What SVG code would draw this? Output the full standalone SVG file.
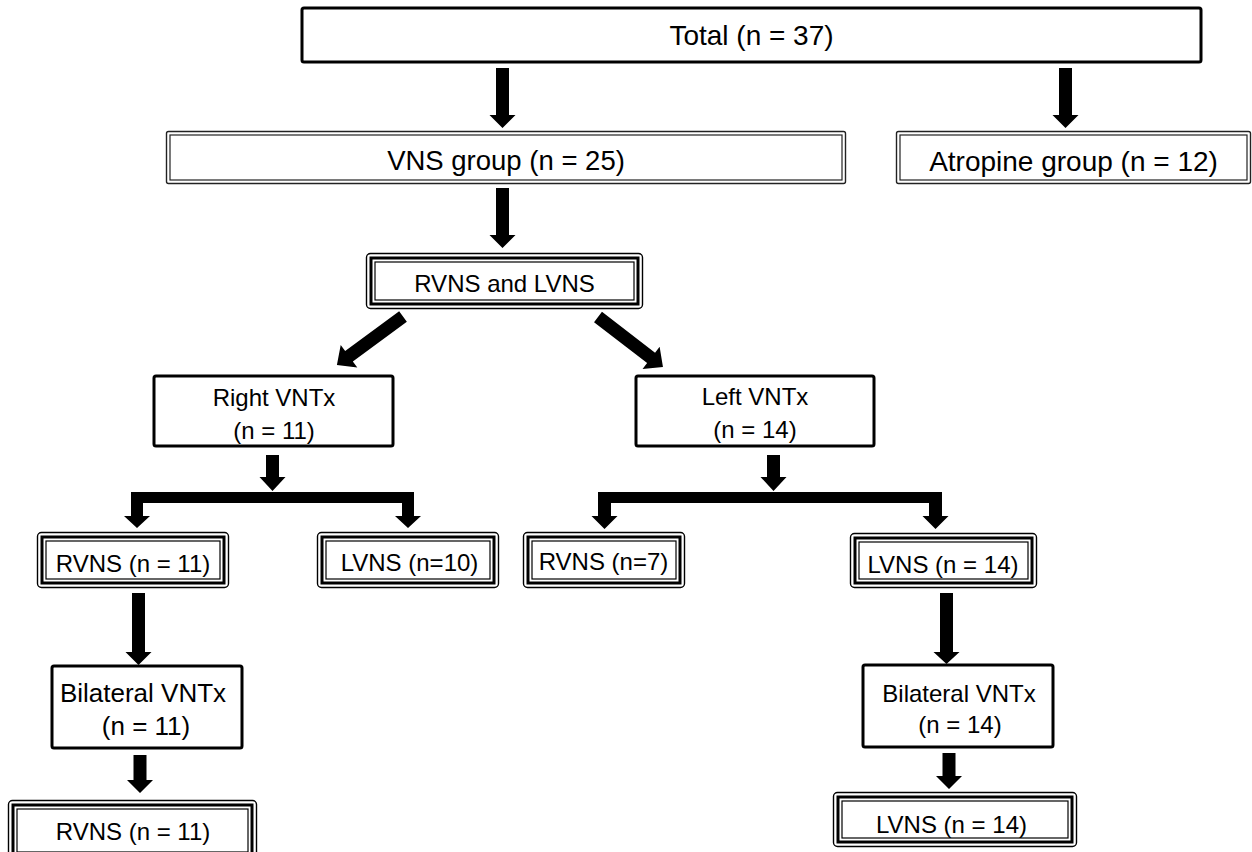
<svg xmlns="http://www.w3.org/2000/svg" width="1252" height="852" viewBox="0 0 1252 852">
<style>
.t{font-family:"Liberation Sans",Arial,sans-serif;font-size:24px;fill:#000;text-anchor:middle}
.big{font-size:28px}
.single{fill:#fff;stroke:#000;stroke-width:3}
.dblo{fill:#fff;stroke:#222;stroke-width:1.4}
.dbli{fill:none;stroke:#222;stroke-width:1.2}
.trio{fill:#fff;stroke:#000;stroke-width:1.4}
.trim{fill:none;stroke:#000;stroke-width:3}
.trii{fill:none;stroke:#000;stroke-width:1.2}
.arr{fill:#000}
</style>
<rect width="1252" height="852" fill="#fff"/>
<g id="connectors" class="arr">
<polygon points="496,68 509,68 509,115 515.5,115 502.5,128 489.5,115 496,115"/>
<polygon points="1059,68 1072,68 1072,115 1078.5,115 1065.5,128 1052.5,115 1059,115"/>
<polygon points="496,188 509,188 509,235 515.5,235 502.5,248 489.5,235 496,235"/>
<polygon transform="translate(403,316.5) rotate(53.7)" points="-6.5,0 6.5,0 6.5,67 14,67 0,82 -14,67 -6.5,67"/>
<polygon transform="translate(598,317) rotate(-52.4)" points="-6.5,0 6.5,0 6.5,67 14,67 0,82 -14,67 -6.5,67"/>
<polygon points="266,455 279,455 279,477 285.5,477 272.5,491 259.5,477 266,477"/>
<polygon points="131,492 414,492 414,516 421,516 408,528 395,516 402,516 402,503 143,503 143,516 150,516 137,528 124,516 131,516"/>
<polygon points="767,455 780,455 780,477 786.5,477 773.5,491 760.5,477 767,477"/>
<polygon points="598,492 942,492 942,516 948.5,516 935.5,529 922.5,516 929,516 929,503 611,503 611,516 617.5,516 604.5,529 591.5,516 598,516"/>
<polygon points="132,593 145,593 145,652 151.5,652 138.5,665 125.5,652 132,652"/>
<polygon points="133.5,755 146.5,755 146.5,780 153,780 140,793 127,780 133.5,780"/>
<polygon points="940,593 953,593 953,652 959.5,652 946.5,664 933.5,652 940,652"/>
<polygon points="942.5,753 955.5,753 955.5,776 962,776 949,789 936,776 942.5,776"/>
</g>
<g id="total">
<rect class="single" x="302" y="8" width="899" height="54" rx="2" stroke-width="3.5"/>
<text class="t big" x="751.5" y="45">Total (n = 37)</text>
</g>
<g id="vns">
<rect class="dblo" x="166.5" y="131.5" width="679" height="52" rx="2"/>
<rect class="dbli" x="170" y="135" width="672" height="45"/>
<text class="t" x="506" y="170" style="font-size:27.5px">VNS group (n = 25)</text>
</g>
<g id="atropine">
<rect class="dblo" x="896.5" y="131.5" width="354" height="52" rx="2"/>
<rect class="dbli" x="900" y="135" width="347" height="45"/>
<text class="t big" x="1073.5" y="171">Atropine group (n = 12)</text>
</g>
<g id="rvns-lvns">
<rect class="trio" x="366.5" y="253.5" width="276" height="55" rx="4"/>
<rect class="trim" x="371" y="258" width="267" height="46"/>
<rect class="trii" x="375" y="262" width="259" height="38"/>
<text class="t" x="504.5" y="292">RVNS and LVNS</text>
</g>
<g id="right-vntx">
<rect class="single" x="154" y="376" width="239" height="70" rx="2"/>
<text class="t" x="274" y="406">Right VNTx</text>
<text class="t" x="274" y="439">(n = 11)</text>
</g>
<g id="left-vntx">
<rect class="single" x="636" y="376" width="238" height="70" rx="2"/>
<text class="t" x="755" y="405">Left VNTx</text>
<text class="t" x="755" y="438">(n = 14)</text>
</g>
<g id="rvns-11">
<rect class="trio" x="37.5" y="532.5" width="191" height="55" rx="4"/>
<rect class="trim" x="42" y="537" width="182" height="46"/>
<rect class="trii" x="46" y="541" width="174" height="38"/>
<text class="t" x="133" y="572">RVNS (n = 11)</text>
</g>
<g id="lvns-10">
<rect class="trio" x="317.5" y="532.5" width="181" height="55" rx="4"/>
<rect class="trim" x="322" y="537" width="172" height="46"/>
<rect class="trii" x="326" y="541" width="164" height="38"/>
<text class="t" x="409.5" y="571">LVNS (n=10)</text>
</g>
<g id="rvns-7">
<rect class="trio" x="523.5" y="532.5" width="161" height="55" rx="4"/>
<rect class="trim" x="528" y="537" width="152" height="46"/>
<rect class="trii" x="532" y="541" width="144" height="38"/>
<text class="t" x="603.5" y="570">RVNS (n=7)</text>
</g>
<g id="lvns-14">
<rect class="trio" x="850.5" y="533.5" width="186" height="54" rx="4"/>
<rect class="trim" x="855" y="538" width="177" height="45"/>
<rect class="trii" x="859" y="542" width="169" height="37"/>
<text class="t" x="943" y="573">LVNS (n = 14)</text>
</g>
<g id="bilateral-left">
<rect class="single" x="52" y="666" width="190" height="82" rx="2"/>
<text class="t" x="143" y="702" style="font-size:26px">Bilateral VNTx</text>
<text class="t" x="146" y="735" style="font-size:26px">(n = 11)</text>
</g>
<g id="bilateral-right">
<rect class="single" x="863" y="665" width="190" height="82" rx="2"/>
<text class="t" x="959" y="702">Bilateral VNTx</text>
<text class="t" x="960" y="733">(n = 14)</text>
</g>
<g id="rvns-final">
<rect class="trio" x="8.5" y="800.5" width="248" height="60" rx="4"/>
<rect class="trim" x="13" y="805" width="239" height="51"/>
<rect class="trii" x="17" y="809" width="231" height="43"/>
<text class="t" x="133" y="840">RVNS (n = 11)</text>
</g>
<g id="lvns-final">
<rect class="trio" x="833.5" y="792.5" width="243" height="54" rx="4"/>
<rect class="trim" x="838" y="797" width="234" height="45"/>
<rect class="trii" x="842" y="801" width="226" height="37"/>
<text class="t" x="951.5" y="833">LVNS (n = 14)</text>
</g>
</svg>
